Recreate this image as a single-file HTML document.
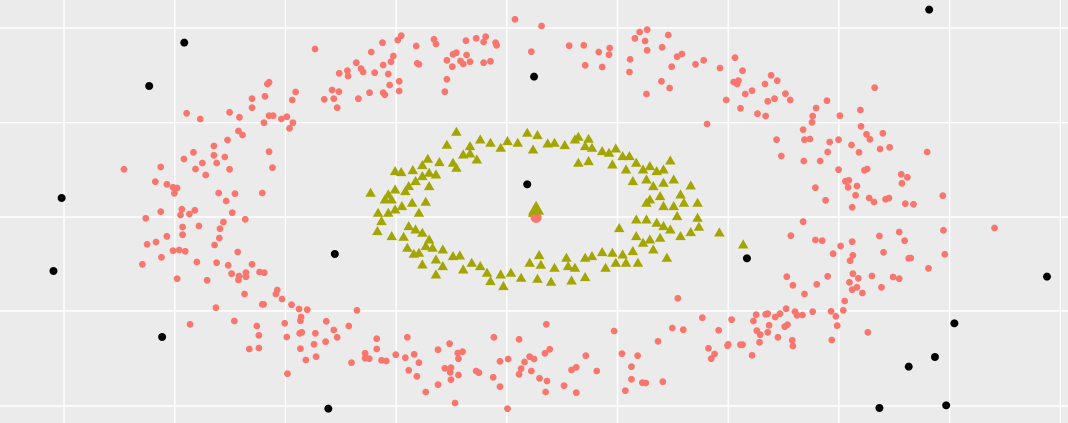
<!DOCTYPE html>
<html><head><meta charset="utf-8"><style>
html,body{margin:0;padding:0;background:#EBEBEB;}
svg{display:block;}
</style></head><body>
<svg id="chart" width="1068" height="423" viewBox="0 0 1068 423" xmlns="http://www.w3.org/2000/svg">
<rect x="0" y="0" width="1068" height="423" fill="#EBEBEB"/>
<g id="grid"></g>
<g id="marks"></g>
</svg>
<script>
const gridX = [188,513,838,1163,1488,1813,2138,2463,2788,3113];
const gridY = [84,368,651,933,1218];
const redX = [1512,925,1123,1168,1178,1222,1274,1280,1368,1398,1426,1420,1455,1458,1560,1090,1155,1148,1125,1046,1020,1022,996,1060,1066,1100,1140,1172,1144,1172,1125,1130,1085,1052,980,990,975,995,952,1230,1225,1312,1330,1340,1352,1360,1380,1370,1420,1440,1328,1312,1306,
868,858,785,790,740,778,740,548,588,674,703,790,802,775,826,842,860,850,700,712,628,668,628,660,568,540,472,364,594,574,636,674,604,790,800,456,490,508,520,512,642,690,770,664,472,534,530,556,572,428,682,720,656,646,584,536,536,490,644,630,432,458,508,526,544,474,418,578,636,698,670,740,680,702,700,722,722,762,776,520,608,718,814,810,828,770,774,634,856,878,902,1048,558,688,754,760,836,882,884,880,886,926,958,980,990,1024,842,732,760,922,956,882,928,898,844,1106,1196,1106,1072,1072,1084,1032,1120,1134,1162,1190,1216,1230,1200,1224,1250,1286,1320,1344,1358,1346,1306,1324,1322,1346,1324,1286,1336,1398,1406,1448,1450,1468,1492,1468,1490,1524,1524,1530,1540,1555,1560,
1590,1671,1714,1718,1758,1768,1790,1788,1850,1848,1864,1878,1900,1894,1900,1944,1962,1972,1988,2002,1942,1966,1898,2042,2066,2114,2158,2180,2154,2164,2168,2132,2188,2208,2174,2224,2248,2254,2274,2246,2264,2282,2306,2320,2076,2396,2428,2386,2384,2358,2362,2378,2280,2294,2360,2408,2436,2430,2462,2466,2526,2528,2544,2554,2568,2500,2522,2592,2584,2612,2462,2538,2546,2482,2492,2490,2516,2394,2424,2512,2502,2552,2566,2600,2610,2646,2664,2648,2658,2682,2722,2768,
2358,2322,2394,2414,2468,2502,2446,2504,2496,2582,2640,2656,2594,2668,2674,2770,2774,2726,2920,2310,2328,2362,2398,2430,2504,2520,2494,2502,2516,2532,2560,2588,2622,2640,2480,2476,2440,2454,2458,2442,2548,2386,2356,2334,2340,2308,2290,2276,2254,2248,2220,2212,2258,2312,2304,2222,2232,2230,2254,2284,2326,2328,1990,2062,2148,2110,1974,2006,1604,1803,1932,2080,2098,2088,2138,2136,2174,2180,2208,1614,1600,1568,1720,1826,1872,1678,1692,1752,1854,1584,1606,1602,1656,1692,1854,1886,1896,1946,1836];
const redY = [58,147,128,120,107,138,118,132,122,115,110,126,128,136,155,156,168,185,195,188,212,228,220,206,216,218,222,244,255,273,278,284,278,296,296,323,270,275,298,193,190,181,163,158,183,192,185,165,188,184,200,238,275,
276,300,252,247,296,289,323,340,357,337,352,347,347,368,357,350,368,385,393,405,438,420,466,471,457,477,501,508,489,507,489,508,525,455,503,545,553,562,564,580,579,581,579,603,635,628,645,642,631,655,638,658,666,686,678,681,704,709,714,735,733,726,752,750,754,772,793,786,788,756,796,793,821,828,840,818,830,816,818,836,841,882,870,882,897,913,913,923,914,927,929,931,973,963,978,1006,970,962,951,1000,997,1000,964,990,1012,978,1011,1047,1044,1033,1025,1046,1070,1080,1121,1016,1012,1047,1060,1075,1076,1088,1081,1083,1064,1073,1063,1088,1111,1129,1176,1049,1031,1059,1055,1076,1105,1103,1117,1125,1139,1154,1209,1113,1118,1132,1012,1084,1077,1160,1226,1018,1123,1106,1086,1070,1113,
78,137,136,196,156,201,144,164,178,216,115,96,89,123,151,142,105,200,170,162,244,264,282,193,181,204,173,212,246,252,242,300,282,272,325,341,348,304,296,252,226,242,281,300,372,324,302,348,367,389,419,417,419,468,483,483,426,456,419,347,330,379,403,418,263,435,457,400,447,442,509,511,507,544,541,562,558,563,601,586,622,594,606,598,594,523,532,550,611,613,456,587,
665,707,720,722,738,725,761,766,782,708,696,722,757,775,774,691,763,805,684,830,856,882,853,829,821,835,847,869,862,879,828,862,831,836,903,931,934,949,977,1020,997,935,945,935,946,926,941,951,941,943,944,963,976,974,980,992,1004,1027,997,1012,1021,1038,895,953,959,991,984,989,973,993,1024,1045,1062,1076,1033,1037,1034,1034,1066,1048,1060,1077,1067,1061,1067,1110,1102,1113,1100,1135,1143,1176,1157,1178,1138,1148,1149,1145,1172];
const triX = [1340,1312,1548,1160,1178,1212,1240,1256,1290,1330,1340,1360,1380,1410,1440,1470,1490,1520,1400,1380,1260,1280,1240,1220,1200,1190,1160,1140,1130,1088,1150,1260,1250,1230,1210,1180,1160,1140,1110,1120,1108,1150,1185,1200,1220,1240,1260,1250,1230,1196,1215,1240,1270,1300,1280,1300,1330,1350,1280,1360,1385,1410,1430,1440,1470,1478,1500,1530,1555,1565,1565,
1578,1608,1628,1658,1688,1698,1728,1718,1738,1768,1788,1808,1828,1848,1868,1698,1728,1798,1838,1888,1908,1928,1948,1968,1978,2028,1898,1858,1918,1948,1998,1938,1908,1948,1978,2008,2048,1898,1868,1898,1928,1988,2048,2052,2028,1998,1968,1948,1818,2112,2182,1868,1908,1938,1918,1958,1888,1858,1828,1798,1768,1738,1718,1688,1663,1668,1678,1718,1628,1618,1588,1583,1578,1838,1873,1778,1808,1568,1578];
const triY = [397,436,400,515,518,512,497,478,488,490,505,465,440,420,430,445,425,430,480,462,520,525,530,545,560,575,570,585,600,580,600,560,607,640,610,620,630,640,640,665,695,710,712,680,690,700,720,740,760,745,763,795,745,750,780,800,770,768,825,810,790,800,820,845,825,860,820,835,790,450,640,
407,432,430,437,420,412,418,440,445,455,460,447,470,470,490,490,485,495,510,510,500,515,510,483,540,558,540,545,560,550,585,590,600,620,620,610,610,610,660,660,670,650,655,682,698,710,690,680,686,699,735,710,720,715,750,775,730,755,765,760,758,770,775,805,775,800,843,833,805,847,796,767,838,790,790,805,790,640,630];
const blackX = [2728,2193,3074,2802,2745,2668,2582,2778,541,438,1568,181,157,1548,983,476,964];
const blackY = [29,775,830,970,1071,1100,1224,1216,128,258,230,594,813,553,762,1011,1226];
const centroidTri = [1574,628];
const centroidRed = [1574,652];

const xScale = v => v / 2.936;
const yScale = v => v / 3;
const NS = 'http://www.w3.org/2000/svg';
const grid = document.getElementById('grid');
const marks = document.getElementById('marks');

gridX.forEach(v => {
  const l = document.createElementNS(NS, 'line');
  l.setAttribute('x1', xScale(v)); l.setAttribute('x2', xScale(v));
  l.setAttribute('y1', 0); l.setAttribute('y2', 423);
  l.setAttribute('stroke', '#FFFFFF'); l.setAttribute('stroke-width', '1.4');
  
  
  grid.appendChild(l);
});
gridY.forEach(v => {
  const l = document.createElementNS(NS, 'line');
  l.setAttribute('y1', yScale(v)); l.setAttribute('y2', yScale(v));
  l.setAttribute('x1', 0); l.setAttribute('x2', 1068);
  l.setAttribute('stroke', '#FFFFFF'); l.setAttribute('stroke-width', '1.4');
  
  
  grid.appendChild(l);
});

function circle(x, y, r, fill, name) {
  const c = document.createElementNS(NS, 'circle');
  c.setAttribute('cx', xScale(x)); c.setAttribute('cy', yScale(y));
  c.setAttribute('r', r); c.setAttribute('fill', fill);
  
  
  marks.appendChild(c);
}
function tri(x, y, s, fill, name) {
  const cx = xScale(x), cy = yScale(y), h = s * 0.866;
  const p = document.createElementNS(NS, 'polygon');
  p.setAttribute('points', `${cx},${cy - h*0.62} ${cx - s/2},${cy + h*0.38} ${cx + s/2},${cy + h*0.38}`);
  p.setAttribute('fill', fill);
  
  
  marks.appendChild(p);
}

redX.forEach((x, i) => circle(x, redY[i], 3.4, '#F8766D', 'red-cluster-point'));
triX.forEach((x, i) => tri(x, triY[i], 10.5, '#A3A500', 'olive-cluster-point'));
blackX.forEach((x, i) => circle(x, blackY[i], 4, '#000000', 'noise-point'));
circle(centroidRed[0], centroidRed[1], 5.5, '#F8766D', 'red-centroid');
tri(centroidTri[0], centroidTri[1], 16, '#A3A500', 'olive-centroid');
</script>
</body></html>
